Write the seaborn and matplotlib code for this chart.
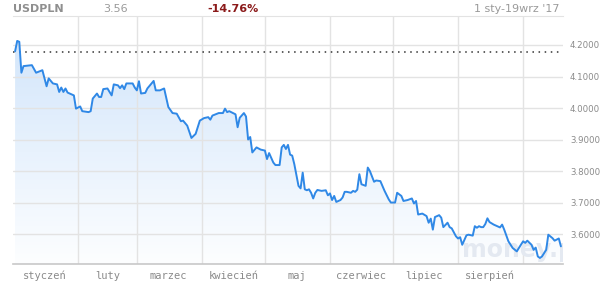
import numpy as np
import pandas as pd
import matplotlib
matplotlib.use("Agg")
import matplotlib.pyplot as plt
import matplotlib.dates as mdates
from matplotlib.colors import LinearSegmentedColormap
from matplotlib.patches import Polygon
import seaborn as sns

dates = [
    "2017-01-02", "2017-01-03", "2017-01-04", "2017-01-05", "2017-01-06", "2017-01-10",
    "2017-01-12", "2017-01-15", "2017-01-17", "2017-01-18", "2017-01-20", "2017-01-22",
    "2017-01-23", "2017-01-24", "2017-01-25", "2017-01-26", "2017-01-27", "2017-01-30",
    "2017-01-31", "2017-02-02", "2017-02-03", "2017-02-06", "2017-02-07", "2017-02-08",
    "2017-02-10", "2017-02-11", "2017-02-12", "2017-02-13", "2017-02-15", "2017-02-17",
    "2017-02-18", "2017-02-20", "2017-02-21", "2017-02-22", "2017-02-23", "2017-02-24",
    "2017-02-27", "2017-02-28", "2017-03-01", "2017-03-02", "2017-03-03", "2017-03-05",
    "2017-03-06", "2017-03-09", "2017-03-10", "2017-03-12", "2017-03-14", "2017-03-16",
    "2017-03-18", "2017-03-20", "2017-03-22", "2017-03-23", "2017-03-25", "2017-03-27",
    "2017-03-29", "2017-03-31", "2017-04-02", "2017-04-04", "2017-04-05", "2017-04-06",
    "2017-04-09", "2017-04-11", "2017-04-12", "2017-04-13", "2017-04-14", "2017-04-17",
    "2017-04-18", "2017-04-19", "2017-04-21", "2017-04-22", "2017-04-23", "2017-04-24",
    "2017-04-25", "2017-04-27", "2017-04-29", "2017-05-01", "2017-05-02", "2017-05-03",
    "2017-05-05", "2017-05-06", "2017-05-08", "2017-05-09", "2017-05-10", "2017-05-11",
    "2017-05-12", "2017-05-13", "2017-05-14", "2017-05-15", "2017-05-17", "2017-05-18",
    "2017-05-19", "2017-05-20", "2017-05-21", "2017-05-22", "2017-05-23", "2017-05-24",
    "2017-05-25", "2017-05-26", "2017-05-28", "2017-05-30", "2017-05-31", "2017-06-01",
    "2017-06-02", "2017-06-03", "2017-06-04", "2017-06-06", "2017-06-07", "2017-06-08",
    "2017-06-09", "2017-06-11", "2017-06-12", "2017-06-13", "2017-06-14", "2017-06-15",
    "2017-06-16", "2017-06-18", "2017-06-19", "2017-06-20", "2017-06-22", "2017-06-23",
    "2017-06-25", "2017-06-27", "2017-06-29", "2017-06-30", "2017-07-02", "2017-07-03",
    "2017-07-05", "2017-07-06", "2017-07-08", "2017-07-10", "2017-07-11", "2017-07-12",
    "2017-07-13", "2017-07-15", "2017-07-17", "2017-07-18", "2017-07-19", "2017-07-20",
    "2017-07-21", "2017-07-23", "2017-07-24", "2017-07-25", "2017-07-27", "2017-07-28",
    "2017-07-29", "2017-07-31", "2017-08-01", "2017-08-02", "2017-08-03", "2017-08-05",
    "2017-08-06", "2017-08-08", "2017-08-09", "2017-08-10", "2017-08-11", "2017-08-12",
    "2017-08-13", "2017-08-14", "2017-08-15", "2017-08-16", "2017-08-18", "2017-08-19",
    "2017-08-21", "2017-08-22", "2017-08-23", "2017-08-25", "2017-08-27", "2017-08-29",
    "2017-08-30", "2017-09-01", "2017-09-02", "2017-09-03", "2017-09-05", "2017-09-06",
    "2017-09-07", "2017-09-08", "2017-09-09", "2017-09-10", "2017-09-12", "2017-09-13",
    "2017-09-15", "2017-09-16", "2017-09-18", "2017-09-19",
]
values = [
    4.180, 4.213, 4.210, 4.112, 4.133, 4.136,
    4.112, 4.120, 4.069, 4.094, 4.078, 4.075,
    4.051, 4.065, 4.051, 4.062, 4.049, 4.040,
    3.998, 4.005, 3.990, 3.987, 3.990, 4.030,
    4.046, 4.035, 4.035, 4.060, 4.062, 4.040,
    4.075, 4.072, 4.063, 4.072, 4.060, 4.078,
    4.078, 4.065, 4.056, 4.085, 4.046, 4.048,
    4.062, 4.086, 4.056, 4.056, 4.062, 4.003,
    3.984, 3.982, 3.958, 3.960, 3.944, 3.905,
    3.918, 3.960, 3.968, 3.971, 3.963, 3.976,
    3.984, 3.984, 3.998, 3.987, 3.990, 3.980,
    3.939, 3.969, 3.984, 3.973, 3.900, 3.908,
    3.859, 3.875, 3.868, 3.865, 3.838, 3.857,
    3.827, 3.819, 3.819, 3.875, 3.883, 3.870,
    3.883, 3.852, 3.849, 3.822, 3.753, 3.745,
    3.795, 3.742, 3.739, 3.742, 3.731, 3.713,
    3.731, 3.740, 3.737, 3.739, 3.723, 3.729,
    3.708, 3.721, 3.702, 3.708, 3.716, 3.734,
    3.734, 3.731, 3.737, 3.734, 3.741, 3.790,
    3.758, 3.753, 3.811, 3.800, 3.766, 3.770,
    3.768, 3.737, 3.710, 3.700, 3.700, 3.731,
    3.721, 3.705, 3.708, 3.713, 3.697, 3.705,
    3.662, 3.665, 3.657, 3.636, 3.649, 3.614,
    3.654, 3.660, 3.652, 3.622, 3.636, 3.622,
    3.618, 3.593, 3.586, 3.590, 3.566, 3.596,
    3.598, 3.595, 3.625, 3.620, 3.625, 3.622,
    3.622, 3.632, 3.650, 3.638, 3.630, 3.627,
    3.621, 3.630, 3.614, 3.577, 3.556, 3.545,
    3.556, 3.577, 3.572, 3.579, 3.566, 3.550,
    3.557, 3.529, 3.524, 3.529, 3.550, 3.598,
    3.587, 3.579, 3.586, 3.561,
]

month_starts = ["2017-02-01", "2017-03-01", "2017-04-01", "2017-05-01",
                "2017-06-01", "2017-07-01", "2017-08-01", "2017-09-01"]
month_label_pos = ["2017-01-16", "2017-02-15", "2017-03-16", "2017-04-16",
                   "2017-05-16", "2017-06-16", "2017-07-16", "2017-08-16"]
month_labels = ["styczeń", "luty", "marzec", "kwiecień", "maj", "czerwiec", "lipiec", "sierpień"]
y_ticks = [3.6, 3.7, 3.8, 3.9, 4.0, 4.1, 4.2]
ref_value = 4.1765
title_symbol = "USDPLN"
title_last = "3.56"
title_change = "-14.76%"
title_range = "1 sty-19wrz '17"

df = pd.DataFrame({"date": pd.to_datetime(dates), "value": values})

sns.set_style("white")
plt.rcParams["font.family"] = ["DejaVu Sans"]

fig = plt.figure(figsize=(6.0, 2.86), dpi=100)
ax = fig.add_axes([13 / 600, 22 / 286, 550 / 600, 248 / 286])

ymin, ymax = 3.505, 4.292
xmin, xmax = pd.Timestamp("2017-01-01"), pd.Timestamp("2017-09-20")
ax.set_xlim(xmin, xmax)
ax.set_ylim(ymin, ymax)

# gradient fill under the line
xn = mdates.date2num(df["date"])
cmap = LinearSegmentedColormap.from_list("fillgrad", ["#fdfeff", "#d3e6fb"])
grad = np.linspace(0, 1, 256).reshape(-1, 1)
im = ax.imshow(grad, aspect="auto", cmap=cmap, origin="lower",
               extent=[mdates.date2num(xmin), mdates.date2num(xmax), ymin, max(values)],
               zorder=1)
poly_pts = np.column_stack([np.r_[xn[0], xn, xn[-1]], np.r_[ymin, df["value"].values, ymin]])
poly = Polygon(poly_pts, closed=True, facecolor="none", edgecolor="none")
ax.add_patch(poly)
im.set_clip_path(poly)

# grid
for m in month_starts:
    ax.axvline(pd.Timestamp(m), color="#e3e3e3", lw=1, zorder=2)
for yv in y_ticks:
    ax.axhline(yv, color="#e3e3e3", lw=1, zorder=2)

# watermark (clipped at the plot edge as in the original)
ax.text(pd.Timestamp("2017-08-03"), 3.512, "money.pl", fontsize=17, fontweight="bold",
        color="#e4e9f1", ha="left", va="bottom", zorder=2, clip_on=True)

# reference dotted line
ax.axhline(ref_value, color="#333333", lw=1.1, linestyle=(0, (1, 3)), zorder=3)

sns.lineplot(data=df, x="date", y="value", ax=ax, color="#2f88e6", lw=1.4, zorder=4)

ax.set_xlabel("")
ax.set_ylabel("")
for s in ["left", "right"]:
    ax.spines[s].set_visible(False)
ax.spines["top"].set_color("#e3e3e3")
ax.spines["bottom"].set_color("#c8c8c8")
ax.spines["bottom"].set_linewidth(1.2)

ax.yaxis.tick_right()
ax.set_yticks(y_ticks)
ax.set_yticklabels([f"{v:.4f}" for v in y_ticks])
ax.tick_params(axis="y", length=0, pad=5, labelsize=6.2, labelcolor="#8a8a8a")
ax.set_xticks([pd.Timestamp(d) for d in month_label_pos])
ax.set_xticklabels(month_labels, family="DejaVu Sans Mono")
ax.tick_params(axis="x", length=0, pad=5, labelsize=7.5, labelcolor="#8a8a8a")

fig.text(13 / 600, 1 - 9 / 286, title_symbol, fontsize=8, fontweight="bold", color="#8f8f8f", va="center")
fig.text(103 / 600, 1 - 9 / 286, title_last, fontsize=8, color="#9a9a9a", va="center")
fig.text(207 / 600, 1 - 9 / 286, title_change, fontsize=8, fontweight="bold", color="#8b1a1a", va="center")
fig.text(560 / 600, 1 - 9 / 286, title_range, fontsize=8, color="#9a9a9a", va="center", ha="right")

fig.savefig("out.png", dpi=100, facecolor="white")
